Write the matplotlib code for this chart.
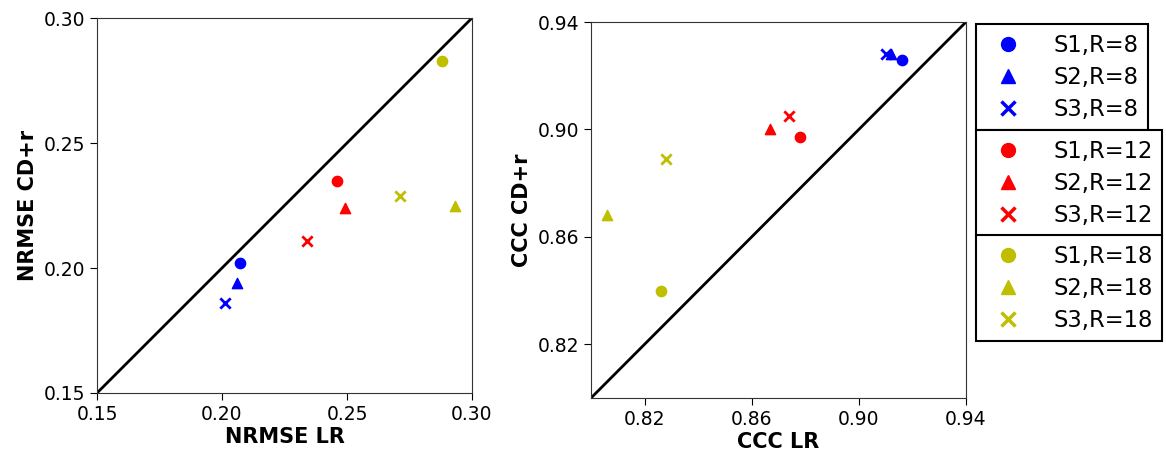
import matplotlib

matplotlib.use("Agg")
import matplotlib.pyplot as plt
from matplotlib.lines import Line2D

# series labels, styles per group
groups = ["R=8", "R=12", "R=18"]
group_colors = ["b", "r", "y"]
schemes = ["S1", "S2", "S3"]
scheme_markers = ["o", "^", "x"]

# NRMSE: rows = R groups, cols = S1, S2, S3
nrmse_lr = [
    [0.207, 0.206, 0.201],
    [0.246, 0.249, 0.234],
    [0.288, 0.293, 0.271],
]
nrmse_cdr = [
    [0.202, 0.194, 0.186],
    [0.235, 0.224, 0.211],
    [0.283, 0.225, 0.229],
]

# CCC
ccc_lr = [
    [0.916, 0.912, 0.910],
    [0.878, 0.867, 0.874],
    [0.826, 0.806, 0.828],
]
ccc_cdr = [
    [0.926, 0.928, 0.928],
    [0.897, 0.900, 0.905],
    [0.840, 0.868, 0.889],
]

nrmse_ticks = [0.15, 0.20, 0.25, 0.30]
ccc_ticks = [0.82, 0.86, 0.90, 0.94]

W, H = 1166, 455
fig = plt.figure(figsize=(W / 100, H / 100), dpi=100)
ax1 = fig.add_axes([97 / W, 1 - 393 / H, 375 / W, 375 / H])
ax2 = fig.add_axes([591 / W, 1 - 398 / H, 375 / W, 376 / H])


def draw(ax, xs, ys, lim, ticks, xlabel, ylabel):
    ax.plot(lim, lim, color="k", lw=2, zorder=1)
    for gi, color in enumerate(group_colors):
        for si, m in enumerate(scheme_markers):
            kw = dict(color=color, s=55, zorder=3)
            if m == "x":
                kw["linewidths"] = 2
            ax.scatter(xs[gi][si], ys[gi][si], marker=m, **kw)
    ax.set_xlim(lim)
    ax.set_ylim(lim)
    ax.set_xticks(ticks)
    ax.set_yticks(ticks)
    ax.set_xticklabels([f"{t:.2f}" for t in ticks])
    ax.set_yticklabels([f"{t:.2f}" for t in ticks])
    ax.tick_params(labelsize=13.5, length=5)
    ax.set_xlabel(xlabel, fontsize=15, fontweight="bold", labelpad=2)
    ax.set_ylabel(ylabel, fontsize=15, fontweight="bold", labelpad=4)
    for sp in ax.spines.values():
        sp.set_color("#333333")


draw(ax1, nrmse_lr, nrmse_cdr, [0.15, 0.30], nrmse_ticks, "NRMSE LR", "NRMSE CD+r")
draw(ax2, ccc_lr, ccc_cdr, [0.80, 0.94], ccc_ticks, "CCC LR", "CCC CD+r")

# three stacked legends, one per R group
tops = [24, 130, 235]
for gi, color in enumerate(group_colors):
    handles = []
    for si, m in enumerate(scheme_markers):
        handles.append(
            Line2D([], [], ls="none", marker=m, color=color, markersize=10,
                   markeredgewidth=2.5 if m == "x" else 1,
                   label=f"{schemes[si]},{groups[gi]}")
        )
    leg = fig.legend(
        handles=handles,
        loc="upper left",
        bbox_to_anchor=(976 / W, 1 - tops[gi] / H),
        borderaxespad=0,
        fontsize=16.3,
        fancybox=False,
        framealpha=1,
        edgecolor="black",
        labelspacing=0.4,
        handletextpad=1.0,
        borderpad=0.42,
    )
    leg.get_frame().set_linewidth(1.5)

fig.savefig("out.png", dpi=100)
